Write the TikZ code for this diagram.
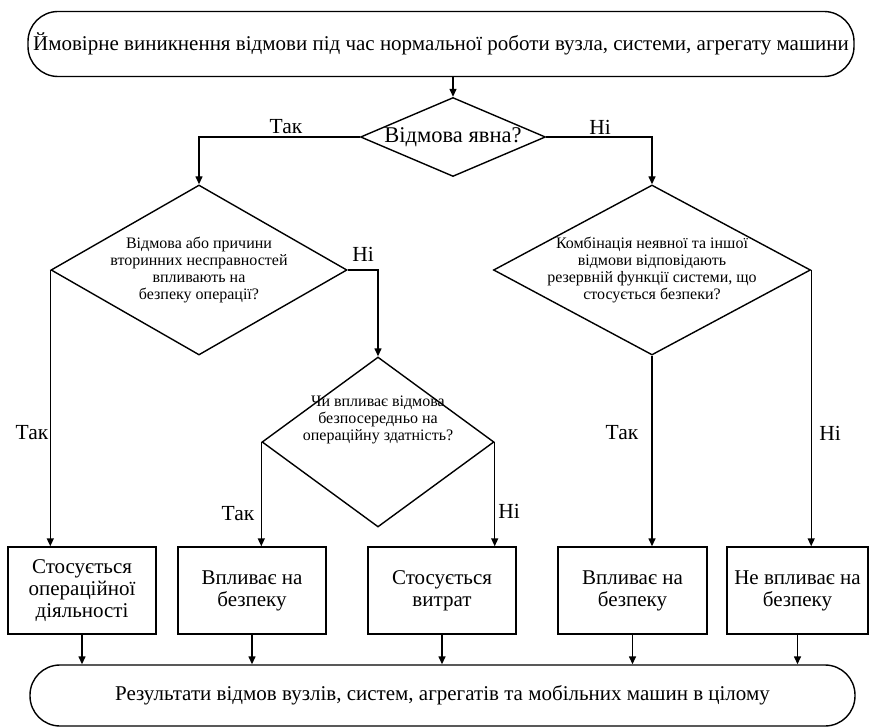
\documentclass[tikz,border=0pt]{standalone}
\usepackage{fontspec}
\setmainfont{Liberation Serif}
\usetikzlibrary{arrows.meta,positioning,shapes.geometric}
\tikzset{
  >={Triangle[length=8pt,width=7pt]},
  term/.style={draw,line width=1.4pt,rounded corners=30pt,inner sep=0pt,font=\fontsize{21}{23}\selectfont},
  dia/.style={draw,diamond,line width=1.4pt,inner sep=0pt},
  dtxt/.style={align=center,inner sep=0pt,font=\fontsize{16}{17}\selectfont},
  res/.style={draw,line width=1.4pt,minimum height=87pt,inner sep=0pt,align=center,font=\fontsize{21}{22}\selectfont},
  lbl/.style={inner sep=0pt,font=\fontsize{21.5}{23}\selectfont},
  flow/.style={->,line width=1.4pt},
}
\newcommand{\dec}[6][]{\node[dia,minimum width=#4,minimum height=#5] (#2) at (#3) {};\node[dtxt,#1] at (#2) {#6};}
\newcommand{\res}[4]{\node[res,minimum width=#3] (#1) at (#2) {#4};}

\begin{document}
\begin{tikzpicture}[x=1pt,y=-1pt]
  \useasboundingbox (0,0) rectangle (870,727);
  \node[term,minimum width=826pt,minimum height=65pt] (top) at (441,44) {Ймовірне виникнення відмови під час нормальної роботи вузла, системи, агрегату машини};
  \dec[font=\fontsize{22.5}{24}\selectfont]{d1}{453,137}{185pt}{79pt}{Відмова явна?}
  \dec{d2}{199,270}{296pt}{170pt}{Відмова або причини\\вторинних несправностей\\впливають на\\безпеку операції?}
  \dec{d4}{652,270}{317pt}{170pt}{Комбінація неявної та іншої\\відмови відповідають\\резервній функції системи, що\\стосується безпеки?}
  \dec[yshift=22pt]{d3}{378,442}{232pt}{170pt}{Чи впливає відмова\\безпосередньо на\\операційну здатність?}
  \res{b1}{82,590.5}{148pt}{Стосується\\операційної\\діяльності}
  \res{b2}{252,590.5}{148pt}{Впливає на\\безпеку}
  \res{b3}{442,590.5}{148pt}{Стосується\\витрат}
  \res{b4}{632.5,590.5}{149pt}{Впливає на\\безпеку}
  \res{b5}{797.5,590.5}{141pt}{Не впливає на\\безпеку}
  \node[term,minimum width=825pt,minimum height=61pt] (bot) at (442.5,695.5) {Результати відмов вузлів, систем, агрегатів та мобільних машин в цілому};
  % гілки
  \draw[flow] (d1.north |- top.south) -- (d1.north);
  \draw[flow] (d1.west) -| (d2.north);
  \draw[flow] (d1.east) -| (d4.north);
  \draw[flow] (d2.east) -| (d3.north);
  \draw[flow] (d2.west) -- (d2.west |- b1.north);
  \draw[flow] (d3.west) -- (d3.west |- b2.north);
  \draw[flow] (d3.east) -- (d3.east |- b3.north);
  \draw[flow] (d4.south) -- (d4.south |- b4.north);
  \draw[flow] (d4.east) -- (d4.east |- b5.north);
  \foreach \b in {b1,b2,b3,b4,b5}
    \draw[flow] (\b.south) -- (\b.south |- bot.north);
  % підписи
  \node[lbl] (t1) at (286,127) {Так};
  \node[lbl] (n1) at (600,127) {Ні};
  \node[lbl] (n2) at (363,254) {Ні};
  \node[lbl] (t2) at (32,433) {Так};
  \node[lbl] (t3) at (238,514) {Так};
  \node[lbl] (n3) at (509,511) {Ні};
  \node[lbl] (t4) at (622,433) {Так};
  \node[lbl] (n4) at (830,433) {Ні};
\end{tikzpicture}
\end{document}
